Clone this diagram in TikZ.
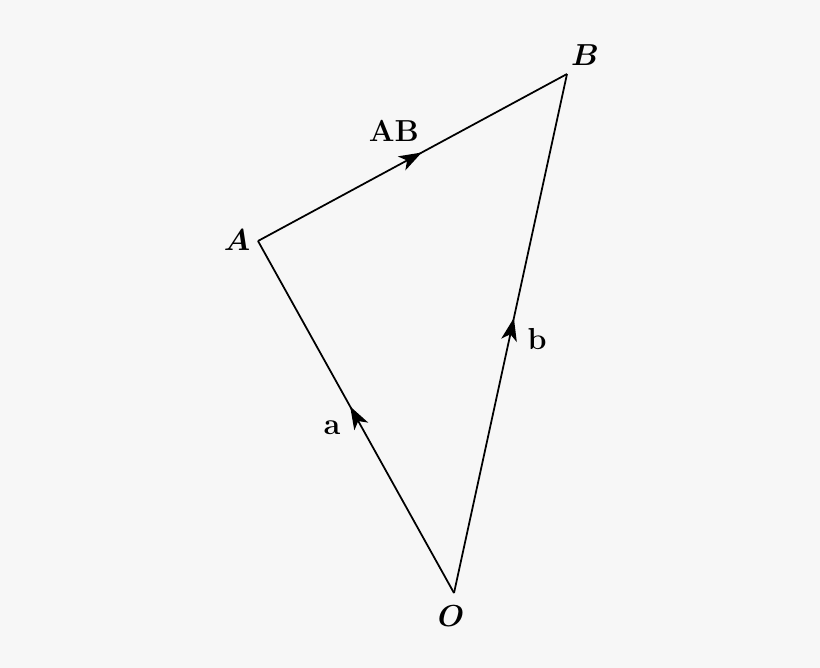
\documentclass[tikz,border=0pt]{standalone}
\usepackage{amsmath, amssymb}
\usetikzlibrary{arrows.meta, decorations.markings}

\definecolor{bgpaper}{HTML}{F7F7F7}

\tikzset{
	vecline/.style = {line width = 1pt, postaction = {decorate},
		decoration = {markings, mark = at position 0.53 with {\arrow{Stealth[length=13pt, width=9pt, inset=3.5pt]}}}},
	vlabel/.style = {font = \LARGE}
}

\begin{document}
\begin{tikzpicture}[x = 0.02cm, y = -0.02cm]
	\fill[bgpaper] (0,0) rectangle (820,668);
	\useasboundingbox (0,0) rectangle (820,668);

	\coordinate (O) at (454,593);
	\coordinate (A) at (258,241);
	\coordinate (B) at (567,74);

	\draw[vecline] (O) -- (A);
	\draw[vecline] (O) -- (B);
	\draw[vecline] (A) -- (B);

	\node[vlabel] (lO) at (451,616) {$\boldsymbol{O}$};
	\node[vlabel] (lA) at (237,240) {$\boldsymbol{A}$};
	\node[vlabel] (lB) at (585,55) {$\boldsymbol{B}$};
	\node[vlabel] (la) at (332,428) {$\mathbf{a}$};
	\node[vlabel] (lb) at (537,339) {$\mathbf{b}$};
	\node[vlabel] (lAB) at (394,131) {$\mathbf{AB}$};
\end{tikzpicture}
\end{document}
